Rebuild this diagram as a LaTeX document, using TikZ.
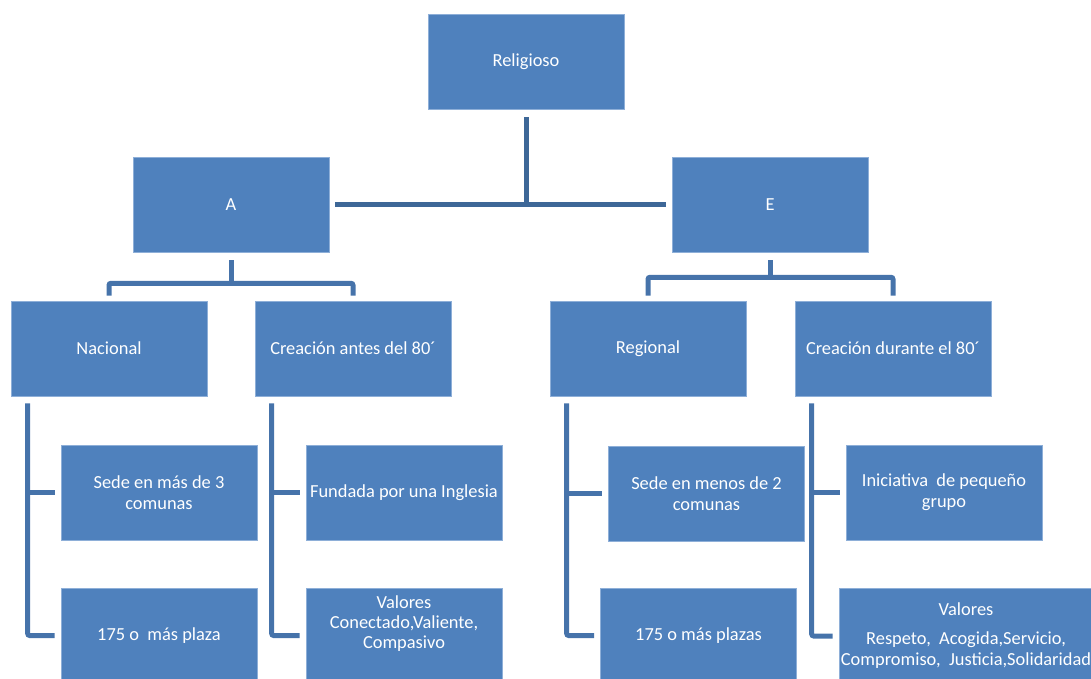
\documentclass[tikz,border=0pt]{standalone}
\usepackage{fontspec}
\setmainfont{Carlito}
\usetikzlibrary{calc}
\definecolor{boxblue}{HTML}{4F81BD}
\definecolor{boxedge}{HTML}{8EAFD8}
\definecolor{linkblue}{HTML}{4673AA}
\definecolor{toplinkblue}{HTML}{3D6797}
\tikzset{orgbox/.style={fill=boxblue, draw=boxedge, line width=0.6pt, text=white, minimum width=196pt, minimum height=95pt, inner sep=2pt, align=center, font=\fontsize{18.4}{21}\selectfont}}
\tikzset{link/.style={draw=linkblue, line width=5pt, rounded corners=2pt}}
\tikzset{toplink/.style={draw=toplinkblue, line width=5pt}}

\begin{document}
\begin{tikzpicture}[x=1pt, y=-1pt]
      \useasboundingbox (0,0) rectangle (1091,679);

      \node[orgbox] (rel) at (526, 61.5) {Religioso};
      \node[orgbox] (A) at (231, 204.5) {A};
      \node[orgbox] (E) at (770, 204.5) {E};

      \node[orgbox] (nac) at (109, 348.5) {Nacional};
      \node[orgbox] (cant) at (353, 348.5) {Creación antes del 80´};
      \node[orgbox] (reg) at (648, 348.5) {Regional};
      \node[orgbox] (cdur) at (893, 348.5) {Creación durante el 80´};

      \node[orgbox] (sede1) at (159, 492.5) {Sede en más de 3\\comunas};
      \node[orgbox] (plaza1) at (159, 635.5) {175 o \ más plaza};
      \node[orgbox] (fund) at (404, 492.5) {Fundada por una Inglesia};
      \node[orgbox] (val1) at (404, 635.5) {Valores\\[-1pt]Conectado,Valiente,\\[-1pt]Compasivo\\[6pt]\mbox{}};
      \node[orgbox] (sede2) at (706.5, 493.5) {Sede en menos de 2\\comunas};
      \node[orgbox] (plaza2) at (698.5, 635.5) {175 o más plazas};
      \node[orgbox] (ini) at (944, 492.5) {Iniciativa \ de pequeño\\grupo};
      \node[orgbox, minimum width=252pt] (val2) at (966, 636) {Valores\\[8pt]Respeto, \ Acogida,Servicio,\\Compromiso, \ Justicia,Solidaridad};

      % top level
      \coordinate (relbot) at ([yshift=-8pt]rel.south);
      \draw[toplink] (relbot) -- (relbot |- A.east);
      \draw[toplink] ([xshift=6pt]A.east) -- ([xshift=-6pt]E.west);

      % second level
      \coordinate (Abar) at ($(A.south)+(0,31)$);
      \coordinate (Ebar) at ($(E.south)+(0,25)$);
      \draw[link] ([yshift=-8pt]A.south) -- (Abar);
      \draw[link] ([yshift=5pt]nac.north) |- (Abar) -| ([yshift=5pt]cant.north);
      \draw[link] ([yshift=-8pt]E.south) -- (Ebar);
      \draw[link] ([yshift=5pt]reg.north) |- (Ebar) -| ([yshift=5pt]cdur.north);

      % third level
      \draw[link] ([xshift=17pt,yshift=-7pt]nac.south west) |- ([xshift=-6pt]plaza1.west);
      \draw[link] ([xshift=17pt]nac.south west |- sede1.west) -- ([xshift=-6pt]sede1.west);
      \draw[link] ([xshift=17pt,yshift=-7pt]cant.south west) |- ([xshift=-6pt]val1.west);
      \draw[link] ([xshift=17pt]cant.south west |- fund.west) -- ([xshift=-6pt]fund.west);
      \draw[link] ([xshift=17pt,yshift=-7pt]reg.south west) |- ([xshift=-6pt]plaza2.west);
      \draw[link] ([xshift=17pt]reg.south west |- sede2.west) -- ([xshift=-6pt]sede2.west);
      \draw[link] ([xshift=17pt,yshift=-7pt]cdur.south west) |- ([xshift=-6pt]val2.west);
      \draw[link] ([xshift=17pt]cdur.south west |- ini.west) -- ([xshift=-6pt]ini.west);
    \end{tikzpicture}
\end{document}
